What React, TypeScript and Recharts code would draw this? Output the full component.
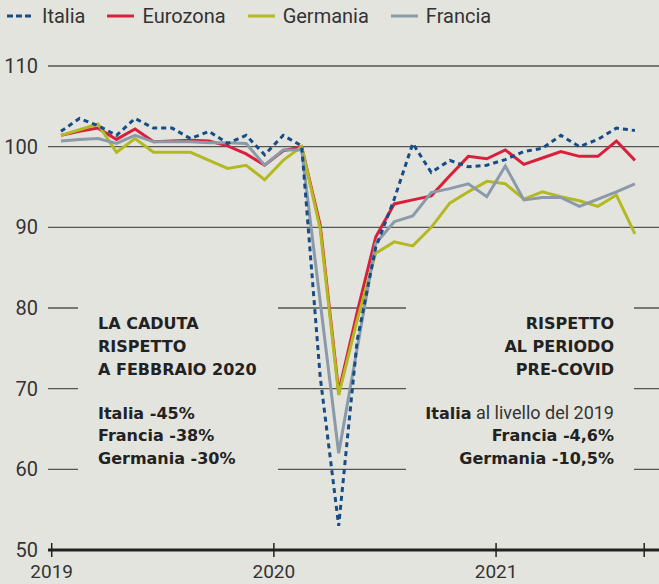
import React from "react";
import { LineChart, Line, XAxis, YAxis, CartesianGrid } from "recharts";

// monthly index, Jan 2019 .. Aug 2021
const months = [
  "2019-01", "2019-02", "2019-03", "2019-04", "2019-05", "2019-06", "2019-07", "2019-08",
  "2019-09", "2019-10", "2019-11", "2019-12", "2020-01", "2020-02", "2020-03", "2020-04",
  "2020-05", "2020-06", "2020-07", "2020-08", "2020-09", "2020-10", "2020-11", "2020-12",
  "2021-01", "2021-02", "2021-03", "2021-04", "2021-05", "2021-06", "2021-07", "2021-08",
];

const italia = [
  101.9, 103.5, 102.6, 101.4, 103.5, 102.3, 102.3, 101.0, 101.9, 100.4, 101.4, 99.0,
  101.4, 100.1, 71.5, 53.0, 76.0, 87.5, 93.5, 100.4, 96.8, 98.3, 97.5, 97.7,
  98.4, 99.4, 99.8, 101.4, 100.0, 100.9, 102.3, 102.0,
];
const eurozona = [
  101.4, 101.9, 102.3, 100.9, 102.2, 100.6, 100.7, 100.8, 100.7, 100.1, 99.1, 97.7,
  99.5, 100.0, 90.3, 69.6, 79.5, 88.8, 92.9, 93.4, 93.9, 96.4, 98.8, 98.5,
  99.6, 97.8, 98.6, 99.4, 98.8, 98.8, 100.7, 98.3,
];
const germania = [
  101.4, 102.1, 102.8, 99.3, 101.0, 99.3, 99.3, 99.3, 98.3, 97.3, 97.7, 95.9,
  98.3, 100.0, 89.8, 69.2, 78.5, 86.8, 88.2, 87.7, 90.0, 93.0, 94.4, 95.7,
  95.4, 93.5, 94.4, 93.8, 93.3, 92.6, 94.0, 89.2,
];
const francia = [
  100.7, 100.9, 101.0, 100.4, 101.4, 100.6, 100.6, 100.6, 100.5, 100.5, 100.4, 97.7,
  99.6, 99.6, 80.8, 62.0, 75.0, 88.0, 90.7, 91.4, 94.3, 94.8, 95.4, 93.8,
  97.6, 93.4, 93.7, 93.7, 92.6, 93.5, 94.4, 95.4,
];

const yTicks = [50, 60, 70, 80, 90, 100, 110];
const xTicks = [0, 12, 24, 32];
const xTickLabels: Record<number, string> = { 0: "2019", 12: "2020", 24: "2021", 32: "" };

const BG = "#e4e4df";
const C_ITA = "#174c84";
const C_EUR = "#da1f3d";
const C_GER = "#b3b921";
const C_FRA = "#8b9aa9";

const data = months.map((m, i) => ({
  month: m,
  t: i + 0.5,
  italia: italia[i],
  eurozona: eurozona[i],
  germania: germania[i],
  francia: francia[i],
}));

const legendItems = [
  { name: "Italia", color: C_ITA, dashed: true },
  { name: "Eurozona", color: C_EUR, dashed: false },
  { name: "Germania", color: C_GER, dashed: false },
  { name: "Francia", color: C_FRA, dashed: false },
];

const YearTick = (props: any) => {
  const { x, y, payload } = props;
  return (
    <g>
      <line x1={x} x2={x} y1={y - 7} y2={y + 7} stroke="#222" strokeWidth={1.5} />
      <text x={x} y={y + 28} textAnchor="middle" fontFamily="Roboto" fontSize={19} fill="#333">
        {xTickLabels[payload.value]}
      </text>
    </g>
  );
};

const boldFont = "'DejaVu Sans', sans-serif";

export default function App() {
  return (
    <div style={{ position: "absolute", left: 0, top: 0, width: 659, height: 584, background: BG, overflow: "hidden" }}>
      <div style={{ position: "absolute", left: 7, top: 4, display: "flex", alignItems: "center", fontFamily: "Roboto", fontSize: 20, color: "#333" }}>
        {legendItems.map((it) => (
          <div key={it.name} style={{ display: "flex", alignItems: "center", marginRight: 22 }}>
            <svg width={27} height={6} style={{ marginRight: 8 }}>
              <line x1={0} x2={27} y1={3} y2={3} stroke={it.color} strokeWidth={3} strokeDasharray={it.dashed ? "6 3" : undefined} />
            </svg>
            <span>{it.name}</span>
          </div>
        ))}
      </div>

      <LineChart width={659} height={584} data={data} margin={{ top: 66, right: 0, bottom: 4, left: 0 }}>
        <CartesianGrid vertical={false} stroke="#555" strokeWidth={1.3} />
        <XAxis
          dataKey="t"
          type="number"
          domain={[-0.2, 32.8]}
          allowDataOverflow
          ticks={xTicks}
          interval={0}
          height={30}
          axisLine={{ stroke: "#222", strokeWidth: 3 }}
          tickLine={false}
          tickSize={0}
          tickMargin={0}
          tick={<YearTick />}
        />
        <YAxis
          type="number"
          domain={[50, 110]}
          ticks={yTicks}
          interval={0}
          width={48}
          axisLine={false}
          tickLine={false}
          tickSize={0}
          tickMargin={10}
          tick={{ fontFamily: "Roboto", fontSize: 20, fill: "#333" }}
        />
        <Line type="linear" dataKey="eurozona" stroke={C_EUR} strokeWidth={3} dot={false} isAnimationActive={false} />
        <Line type="linear" dataKey="germania" stroke={C_GER} strokeWidth={3} dot={false} isAnimationActive={false} />
        <Line type="linear" dataKey="francia" stroke={C_FRA} strokeWidth={3} dot={false} isAnimationActive={false} />
        <Line type="linear" dataKey="italia" stroke={C_ITA} strokeWidth={3} strokeDasharray="5 4" dot={false} isAnimationActive={false} />
      </LineChart>

      <svg width={659} height={584} style={{ position: "absolute", left: 0, top: 0, pointerEvents: "none" }}>
        <rect x={78} y={298} width={200} height={178} fill={BG} />
        <rect x={406} y={298} width={228} height={178} fill={BG} />
        <g fontFamily={boldFont} fontWeight={700} fontSize={16} fill="#222">
          <text x={98} y={329}>LA CADUTA</text>
          <text x={98} y={352}>RISPETTO</text>
          <text x={98} y={375}>A FEBBRAIO 2020</text>
          <text x={98} y={419}>Italia -45%</text>
          <text x={98} y={441}>Francia -38%</text>
          <text x={98} y={464}>Germania -30%</text>
        </g>
        <g fontFamily={boldFont} fontWeight={700} fontSize={16} fill="#222" textAnchor="end">
          <text x={614} y={329}>RISPETTO</text>
          <text x={614} y={352}>AL PERIODO</text>
          <text x={614} y={375}>PRE-COVID</text>
          <text x={614} y={419}>
            <tspan>Italia</tspan>
            <tspan fontFamily="Roboto" fontWeight={400} fontSize={18} fill="#333"> al livello del 2019</tspan>
          </text>
          <text x={614} y={441}>Francia -4,6%</text>
          <text x={614} y={464}>Germania -10,5%</text>
        </g>
      </svg>
    </div>
  );
}
